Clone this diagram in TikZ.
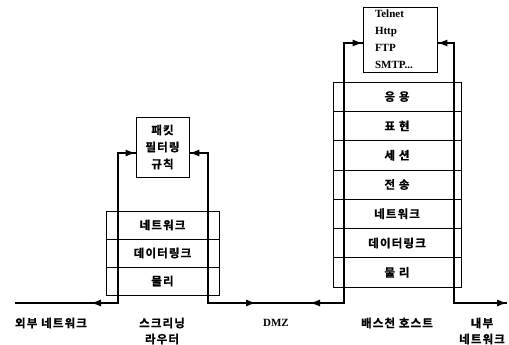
\documentclass[tikz,border=0pt]{standalone}
\usepackage{fontspec}
\setmainfont{Liberation Serif}
\newfontfamily\kr{Noto Sans CJK KR}[BoldFont={Noto Sans CJK KR Bold},BoldFeatures={FakeBold=1.2},LetterSpace=10]
\usetikzlibrary{arrows.meta}
\begin{document}
\begin{tikzpicture}[x=1pt,y=-1pt,
  krtext/.style={font=\kr\bfseries\fontsize{11.5}{17}\selectfont},
  rlayer/.style={draw, line width=0.6pt, minimum width=113pt, minimum height=28pt, inner sep=0pt, krtext},
  blayer/.style={draw, line width=0.6pt, minimum width=128pt, minimum height=29.3pt, inner sep=0pt, krtext},
  rulebox/.style={draw, line width=0.8pt, minimum width=53pt, minimum height=60pt, inner sep=0pt, align=center, krtext},
  appbox/.style={draw, line width=0.8pt, minimum width=74pt, minimum height=65pt, inner sep=0pt, align=left,
    text width=50pt, font=\bfseries\fontsize{11}{17}\selectfont},
  conn/.style={line width=1.2pt},
  tip/.style={-{Latex[length=10pt,width=7pt]}},
  lbl/.style={font=\kr\bfseries\fontsize{11.5}{16}\selectfont, align=center}
]
\useasboundingbox (0,0) rectangle (509,345);

% screening router
\node[rlayer] (r1) at (162.5,225) {네트워크};
\node[rlayer] (r2) at (162.5,253) {데이터링크};
\node[rlayer] (r3) at (162.5,281) {물리};
\node[rulebox] (pf) at (162.5,147) {패킷\\필터링\\규칙};

% bastion host
\node[blayer] (b1) at (397,96.6) {응 용};
\node[blayer] (b2) at (397,125.9) {표 현};
\node[blayer] (b3) at (397,155.2) {세 션};
\node[blayer] (b4) at (397,184.5) {전 송};
\node[blayer] (b5) at (397,213.8) {네트워크};
\node[blayer] (b6) at (397,243.1) {데이터링크};
\node[blayer] (b7) at (397,272.4) {물 리};
\node[appbox] (app) at (400,39.5) {Telnet\\Http\\FTP\\SMTP...};

% connector points
\coordinate (ext) at (15,303);
\coordinate (extarrow) at (91,303);
\coordinate (rL) at (118,303);
\coordinate (rR) at (208,303);
\coordinate (dmzA) at (256,303);
\coordinate (dmzB) at (310,303);
\coordinate (bL) at (344,303);
\coordinate (bR) at (454,303);
\coordinate (intend) at (507,303);

% full lines
\draw[conn] (ext) -- (rL) -- (rL |- 0,153) -- (pf.west |- 0,153);
\draw[conn] (pf.east |- 0,153) -- (rR |- 0,153) -- (rR) -- (bL) -- (bL |- 0,43) -- (app.west |- 0,43);
\draw[conn] (app.east |- 0,43) -- (bR |- 0,43) -- (bR) -- (intend);
% arrowheads
\draw[conn,tip] (rL) -- (extarrow);
\draw[conn,tip] (rL |- 0,153) -- (pf.west |- 0,153);
\draw[conn,tip] (rR |- 0,153) -- (pf.east |- 0,153);
\draw[conn,tip] (rR) -- (dmzA);
\draw[conn,tip] (bL) -- (dmzB);
\draw[conn,tip] (bL |- 0,43) -- (app.west |- 0,43);
\draw[conn,tip] (bR |- 0,43) -- (app.east |- 0,43);
\draw[conn,tip] (bR) -- (intend);

% labels
\node[lbl] (lext) at (51,323) {외부 네트워크};
\node[lbl] (lrt) at (162,331) {스크리닝\\라우터};
\node[font=\bfseries\fontsize{11}{12}\selectfont] (ldmz) at (276,323) {DMZ};
\node[lbl] (lbh) at (397,323) {배스천 호스트};
\node[lbl] (lint) at (482,331) {내부\\네트워크};
\end{tikzpicture}
\end{document}
